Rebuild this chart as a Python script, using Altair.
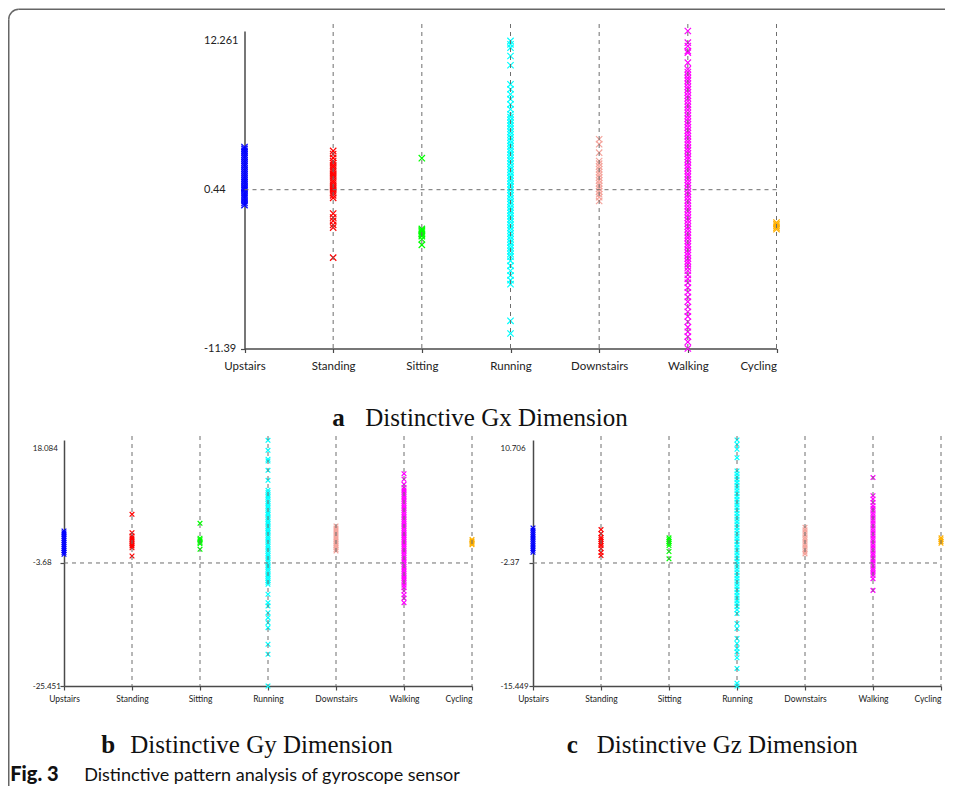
import altair as alt
import pandas as pd

CATEGORIES = ["Upstairs", "Standing", "Sitting", "Running", "Downstairs", "Walking", "Cycling"]
COLORS = ["#0000FF", "#FF0000", "#00FF00", "#00FFFF", "#F4A49C", "#FF00FF", "#FFB000"]

# ---- panel a : Gx ----
GX_TICKS = [-11.39, 0.44, 12.261]
gx_upstairs = [3.62, 3.48, 3.33, 3.2, 3.05, 2.9, 2.76, 2.6, 2.45, 2.3, 2.16, 2.0, 1.85, 1.7, 1.56, 1.4,
               1.25, 1.1, 0.96, 0.8, 0.65, 0.5, 0.36, 0.2, 0.05, -0.1, -0.24, -0.4, -0.55, -0.71]
gx_standing = [3.33, 3.1, 2.81, 2.58, 2.42, 2.25, 2.1, 1.93, 1.78, 1.6, 1.45, 1.3, 1.12, 0.97, 0.8, 0.65,
               0.5, 0.33, 0.18, 0.02, -0.17, -1.34, -1.64, -1.88, -2.18, -2.38, -4.62]
gx_sitting = [2.79, -2.48, -2.58, -2.66, -2.75, -2.84, -2.95, -3.02, -3.25, -3.67]
gx_running = [11.52, 11.27, 11.02, 10.4, 9.71, 8.29, 7.92, 7.55, 7.18, 6.8, 6.43, 6.06, 5.85, 5.62, 5.4,
              5.2, 4.98, 4.75, 4.55, 4.33, 4.1, 3.9, 3.68, 3.45, 3.25, 3.03, 2.8, 2.6, 2.38, 2.15, 1.95,
              1.73, 1.5, 1.3, 1.08, 0.85, 0.65, 0.43, 0.2, 0.0, -0.22, -0.45, -0.65, -0.88, -1.1, -1.3,
              -1.53, -1.75, -1.95, -2.18, -2.4, -2.6, -2.83, -3.05, -3.25, -3.48, -3.7, -3.9, -4.13,
              -4.35, -4.55, -4.86, -5.23, -5.6, -5.95, -6.3, -6.6, -9.33, -10.27]
gx_downstairs = [4.2, 3.83, 3.2, 2.58, 2.38, 2.17, 1.96, 1.75, 1.55, 1.34, 1.13, 0.92, 0.72, 0.5, 0.3,
                 0.1, -0.12, -0.4]
gx_walking = [12.261, 11.39, 11.14, 10.77, 10.65, 9.9, 9.41, 9.2, 8.98, 8.75, 8.55, 8.33, 8.1, 7.9, 7.68,
              7.45, 7.25, 7.03, 6.8, 6.6, 6.38, 6.15, 5.95, 5.73, 5.5, 5.3, 5.08, 4.85, 4.65, 4.43, 4.2,
              4.0, 3.78, 3.55, 3.35, 3.13, 2.9, 2.7, 2.48, 2.25, 2.05, 1.83, 1.6, 1.4, 1.18, 0.95, 0.75,
              0.53, 0.3, 0.1, -0.12, -0.35, -0.55, -0.78, -1.0, -1.2, -1.43, -1.65, -1.85, -2.08, -2.3,
              -2.5, -2.73, -2.95, -3.15, -3.38, -3.6, -3.8, -4.03, -4.25, -4.45, -4.68, -4.9, -5.1,
              -5.36, -5.6, -5.9, -6.2, -6.5, -6.85, -7.2, -7.55, -7.9, -8.3, -8.65, -9.0, -9.4, -9.8,
              -10.15, -10.5, -10.9, -11.39]
gx_cycling = [-2.01, -2.13, -2.25, -2.38, -2.5]

# ---- panel b : Gy ----
GY_TICKS = [-25.451, -3.68, 18.084]
gy_upstairs = [1.98, 1.65, 1.3, 0.95, 0.6, 0.25, -0.1, -0.45, -0.8, -1.15, -1.5, -1.82, -2.15]
gy_standing = [4.93, 1.68, 1.09, 0.75, 0.4, 0.05, -0.3, -0.65, -0.98, -2.45]
gy_sitting = [3.34, 0.69, 0.45, 0.2, -0.05, -0.27, -1.26]
gy_running = [18.03, 16.26, 14.67, 14.37, 12.72, 10.95, 9.18, 8.8, 8.35, 8.0, 7.6, 7.15, 6.8, 6.4, 6.05,
              5.6, 5.2, 4.85, 4.4, 4.0, 3.6, 3.25, 2.8, 2.4, 2.0, 1.65, 1.2, 0.8, 0.4, 0.0, -0.45, -0.8,
              -1.2, -1.6, -2.05, -2.4, -2.8, -3.2, -3.6, -4.05, -4.4, -4.8, -5.2, -5.65, -6.0, -6.4,
              -6.8, -7.1, -7.45, -9.22, -10.71, -11.29, -12.48, -13.36, -14.25, -15.13, -18.07, -19.84,
              -25.451]
gy_downstairs = [2.86, 2.5, 2.15, 1.8, 1.45, 1.1, 0.75, 0.4, 0.05, -0.3, -0.65, -1.0, -1.3, -1.56]
gy_walking = [12.12, 11.13, 10.24, 9.64, 9.25, 8.85, 8.45, 8.05, 7.65, 7.25, 6.85, 6.45, 6.05, 5.65, 5.25,
              4.85, 4.45, 4.05, 3.65, 3.25, 2.85, 2.45, 2.05, 1.65, 1.25, 0.85, 0.45, 0.05, -0.35, -0.75,
              -1.15, -1.55, -1.95, -2.35, -2.75, -3.15, -3.55, -3.95, -4.35, -4.75, -5.15, -5.55, -5.95,
              -6.35, -6.75, -7.15, -7.6, -8.05, -8.64, -9.3, -9.9, -10.71]
gy_cycling = [0.45, 0.2, 0.0, -0.22, -0.44]

# ---- panel c : Gz ----
GZ_TICKS = [-15.449, -2.37, 10.706]
gz_upstairs = [1.36, 1.12, 0.88, 0.64, 0.4, 0.16, -0.08, -0.32, -0.56, -0.8, -1.02, -1.23]
gz_standing = [1.18, 0.75, 0.33, 0.12, -0.1, -0.3, -0.52, -0.84, -1.26, -1.58]
gz_sitting = [0.3, 0.1, -0.1, -0.3, -0.52, -1.15, -1.93]
gz_running = [10.706, 10.25, 9.72, 8.83, 7.42, 7.1, 6.8, 6.5, 6.2, 5.9, 5.6, 5.3, 5.0, 4.7, 4.4, 4.1,
              3.8, 3.5, 3.2, 2.9, 2.6, 2.3, 2.0, 1.7, 1.4, 1.1, 0.8, 0.5, 0.2, -0.1, -0.4, -0.7, -1.0,
              -1.3, -1.6, -1.9, -2.2, -2.5, -2.8, -3.1, -3.4, -3.7, -4.0, -4.3, -4.6, -4.9, -5.2, -5.5,
              -5.8, -6.1, -6.4, -6.7, -7.0, -7.35, -7.75, -8.81, -9.34, -10.4, -10.93, -11.46, -11.82,
              -12.45, -13.58, -15.16, -15.449]
gz_downstairs = [1.42, 1.15, 0.9, 0.62, 0.35, 0.1, -0.15, -0.42, -0.68, -0.95, -1.2, -1.4]
gz_walking = [6.71, 4.78, 4.43, 4.07, 3.72, 3.45, 3.2, 2.92, 2.65, 2.4, 2.12, 1.85, 1.6, 1.32, 1.05, 0.8,
              0.52, 0.25, 0.0, -0.28, -0.55, -0.8, -1.08, -1.35, -1.6, -1.88, -2.15, -2.4, -2.68, -2.95,
              -3.2, -3.45, -3.7, -4.04, -5.28]
gz_cycling = [0.3, 0.1, -0.1, -0.27]

TITLE_A = ("a", "Distinctive Gx Dimension")
TITLE_B = ("b", "Distinctive Gy Dimension")
TITLE_C = ("c", "Distinctive Gz Dimension")
CAPTION = ("Fig. 3", "Distinctive pattern analysis of gyroscope sensor")

X_SHAPE = "M-1,-1L1,1M-1,1L1,-1"
AXIS_COLOR = "#4a4a4a"
DASH_COLOR = "#6e6e6e"
LABEL_FONT = "Lato"
SERIF = "Liberation Serif"
ONE = pd.DataFrame({"d": [0]})


def text_layer(txt, x, y, font, size, weight="normal", align="left"):
    return alt.Chart(ONE).mark_text(
        text=txt, align=align, baseline="alphabetic", font=font, fontSize=size,
        fontWeight=weight, color="#111111"
    ).encode(x=alt.value(x), y=alt.value(y))


def panel(series, ticks, x0, range_w, height, msize, xfs, yfs, ylabpad, xlabpad,
          topshift, overshoot, extras):
    rows = [(c, v) for c, vals in zip(CATEGORIES, series) for v in vals]
    df = pd.DataFrame(rows, columns=["activity", "value"])
    xscale = alt.Scale(type="point", domain=CATEGORIES, range=[x0, x0 + range_w], padding=0)
    yscale = alt.Scale(domain=[ticks[0], ticks[2]], nice=False, zero=False)
    xaxis = alt.Axis(
        title=None, tickSize=4, tickColor=AXIS_COLOR, domainColor=AXIS_COLOR, domainWidth=1.5,
        tickWidth=1.2, labelFont=LABEL_FONT, labelFontSize=xfs, labelColor="#222222",
        labelPadding=xlabpad, labelAngle=0, labelOverlap=False, labelFlush=False, grid=False,
        labelAlign={"condition": {"test": "datum.value === 'Cycling'", "value": "right"},
                    "value": "center"},
    )
    yaxis = alt.Axis(
        title=None, values=ticks, labelExpr="toString(datum.value)", tickSize=4, offset=-x0,
        tickColor=AXIS_COLOR, domainColor=AXIS_COLOR, domainWidth=1.5, tickWidth=1.2,
        labelFont=LABEL_FONT, labelFontSize=yfs, labelColor="#222222", labelAlign="left",
        labelPadding=ylabpad, labelFlush=False, labelOverlap=False, grid=False,
        labelOffset={"condition": {"test": f"datum.value > {ticks[1]}", "value": topshift},
                     "value": 0},
        tickOpacity={"condition": {"test": f"datum.value > {ticks[1]}", "value": 0}, "value": 1},
    )
    points = alt.Chart(df).mark_point(
        shape=X_SHAPE, filled=False, strokeWidth=1.2, size=msize, opacity=1
    ).encode(
        x=alt.X("activity:N", scale=xscale, axis=xaxis, sort=CATEGORIES),
        y=alt.Y("value:Q", scale=yscale, axis=yaxis),
        color=alt.Color("activity:N", scale=alt.Scale(domain=CATEGORIES, range=COLORS), legend=None),
    )
    vdf = pd.DataFrame({"activity": CATEGORIES[1:]})
    vrules = alt.Chart(vdf).mark_rule(strokeDash=[4, 4], color=DASH_COLOR, strokeWidth=1).encode(
        x=alt.X("activity:N"), y=alt.value(-overshoot), y2=alt.value(height)
    )
    hdf = pd.DataFrame({"activity": [CATEGORIES[0]], "activity2": [CATEGORIES[-1]], "value": [ticks[1]]})
    hrule = alt.Chart(hdf).mark_rule(strokeDash=[4, 4], color=DASH_COLOR, strokeWidth=1).encode(
        x=alt.X("activity:N"), x2="activity2:N", y=alt.Y("value:Q")
    )
    return alt.layer(points, vrules, hrule, *extras).properties(width=x0 + range_w, height=height)


# frame decoration (pixel offsets relative to the shared left edge of the panels)
frame = [
    alt.Chart(ONE).mark_rule(color="#666666", strokeWidth=1.5).encode(
        x=alt.value(-55.25), y=alt.value(-11.75), y2=alt.value(755.0)),
    alt.Chart(ONE).mark_rule(color="#666666", strokeWidth=1.5).encode(
        x=alt.value(-45.25), x2=alt.value(881.0), y=alt.value(-21.75)),
    alt.Chart(ONE).mark_arc(theta=4.7124, theta2=6.2832, radius=10.75, radius2=9.25,
                            color="#666666").encode(x=alt.value(-45.25), y=alt.value(-11.75)),
]

title_a = [text_layer(TITLE_A[0], 268.25, 394.75, SERIF, 25, "bold"),
           text_layer(TITLE_A[1], 301.25, 394.75, SERIF, 25)]
title_b = [text_layer(TITLE_B[0], 37.25, 312.75, SERIF, 25, "bold"),
           text_layer(TITLE_B[1], 66.25, 312.75, SERIF, 25),
           text_layer(CAPTION[0], -53.75, 340.75, LABEL_FONT, 20, 900),
           text_layer(CAPTION[1], 20.25, 340.75, LABEL_FONT, 18)]
title_c = [text_layer(TITLE_C[0], 33.75, 312.75, SERIF, 25, "bold"),
           text_layer(TITLE_C[1], 63.75, 312.75, SERIF, 25)]

chart_a = panel([gx_upstairs, gx_standing, gx_sitting, gx_running, gx_downstairs, gx_walking, gx_cycling],
                GX_TICKS, 180.5, 532, 317.5, 40, 11.5, 11, 37, 8, 9, 7, frame + title_a)
chart_b = panel([gy_upstairs, gy_standing, gy_sitting, gy_running, gy_downstairs, gy_walking, gy_cycling],
                GY_TICKS, 0, 408, 246, 22, 8.5, 8, 27.75, 4, 8, 4, title_b)
chart_c = panel([gz_upstairs, gz_standing, gz_sitting, gz_running, gz_downstairs, gz_walking, gz_cycling],
                GZ_TICKS, 0, 408, 246, 22, 8.5, 8, 29, 4, 8, 4, title_c)

bottom = alt.hconcat(chart_b, chart_c, spacing=61, bounds="flush")
chart = alt.vconcat(chart_a, bottom, spacing=91, bounds="flush").properties(
    padding=0, background="white"
).configure_view(stroke=None)

chart.save("out.html", embed_options={"renderer": "svg", "actions": False})
